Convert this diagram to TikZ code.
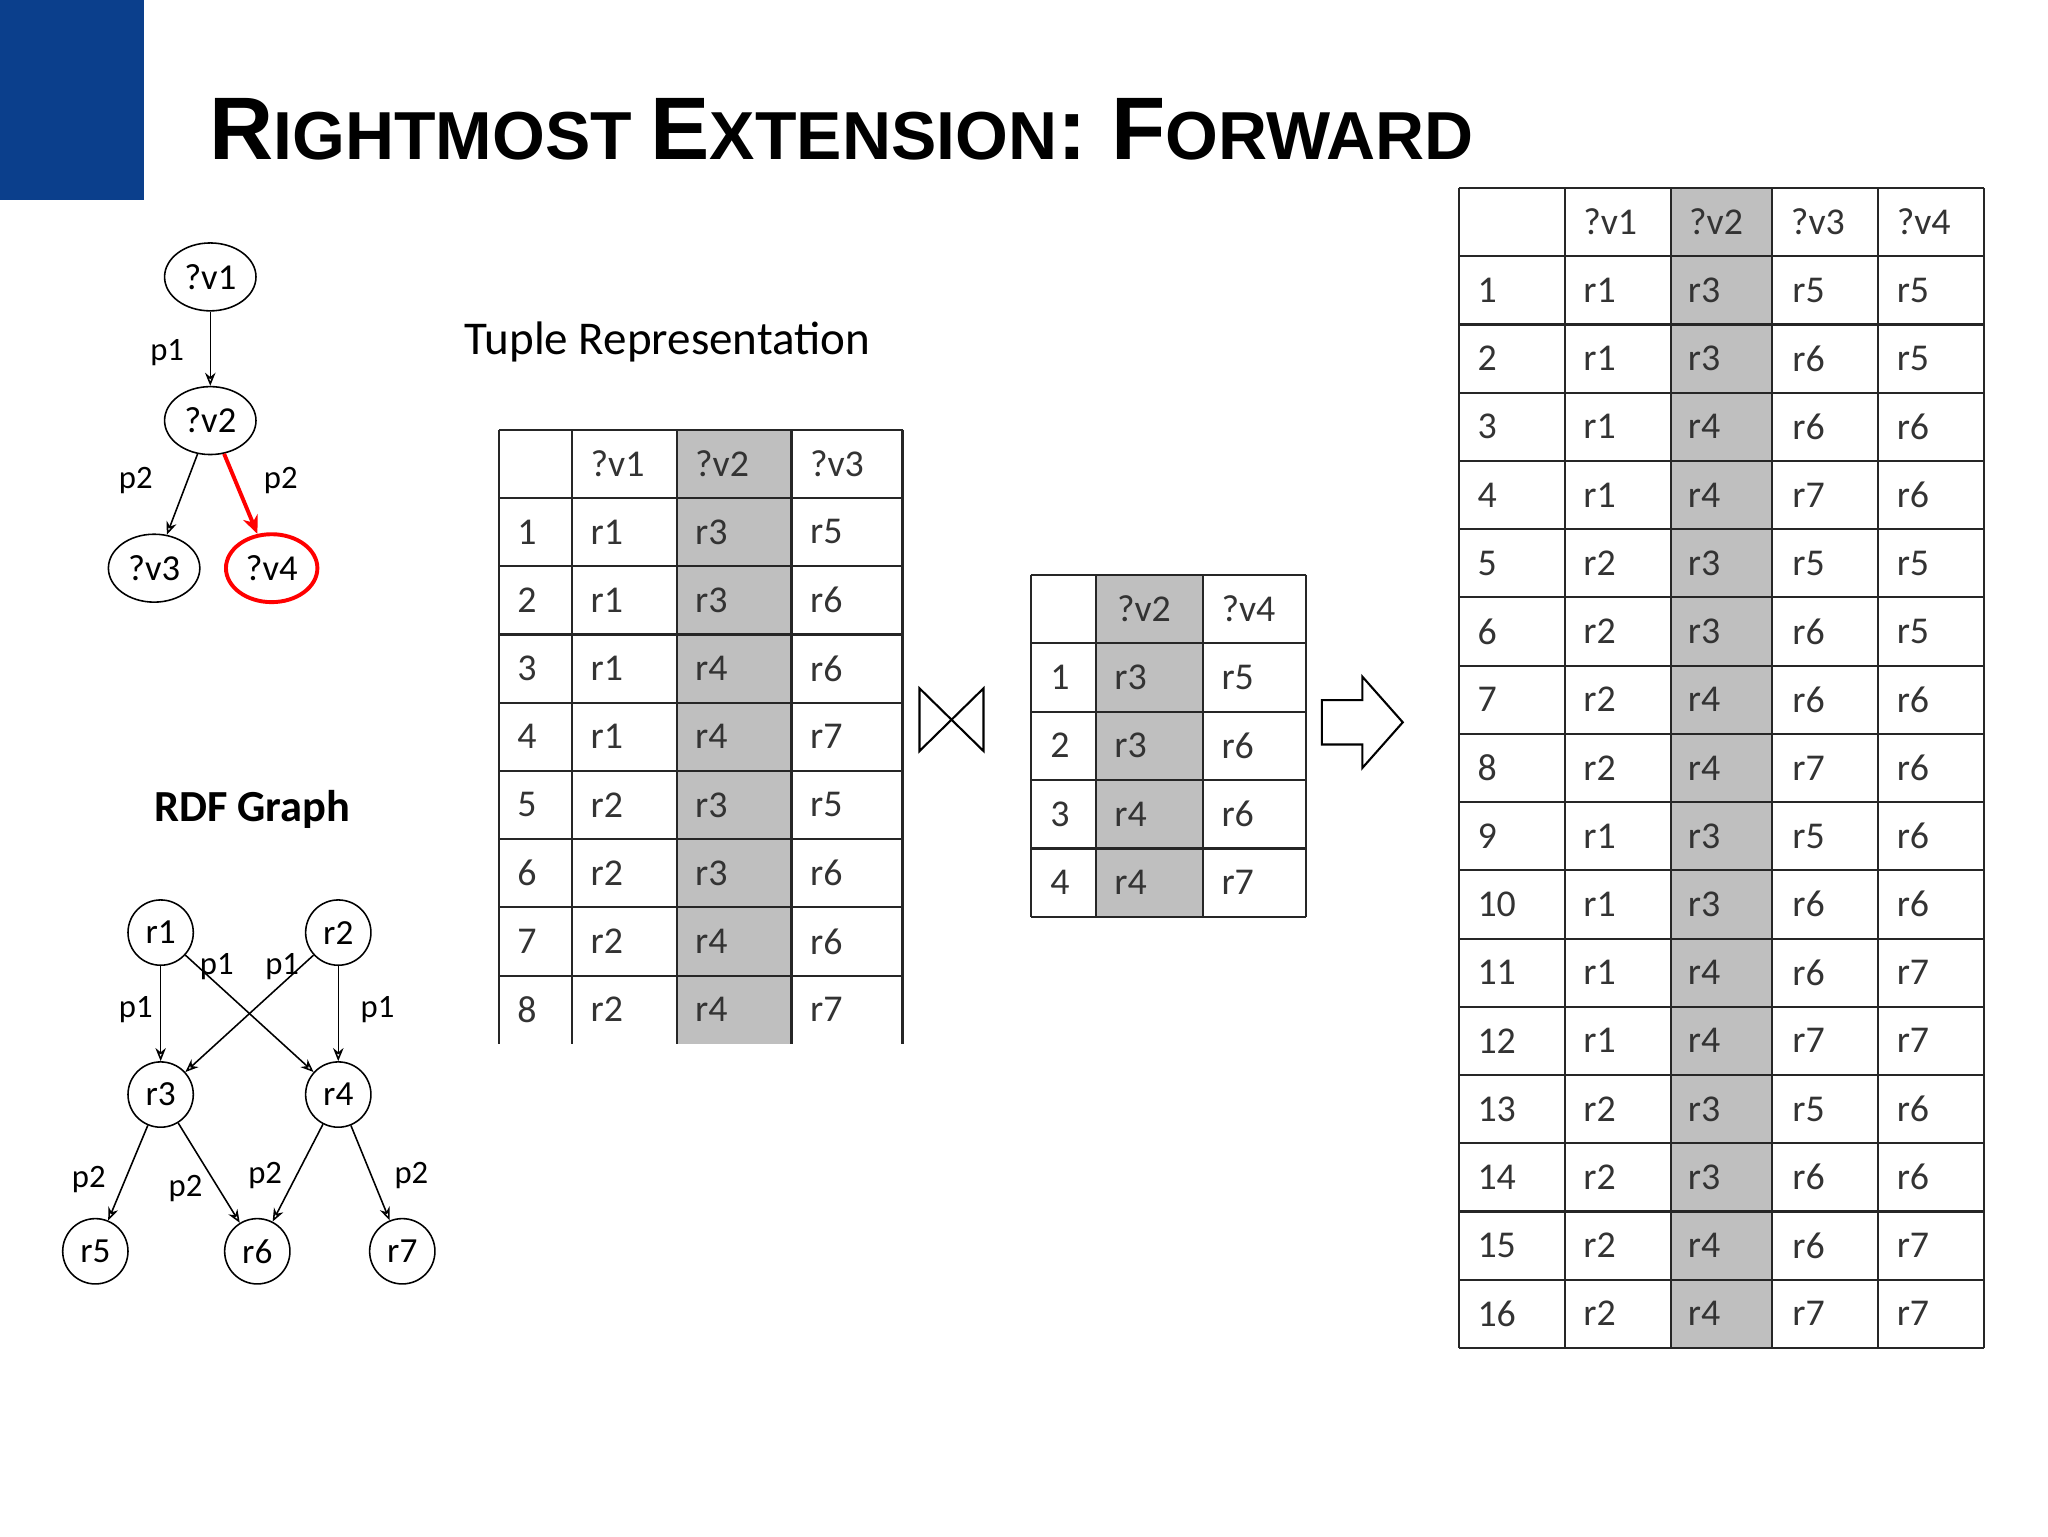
\documentclass[tikz,border=0pt]{standalone}
\usepackage{fontspec}
\setmainfont{Carlito}
\newfontfamily\titlefont{Liberation Sans}
\usetikzlibrary{arrows.meta,shapes.geometric}
\begin{document}
\begin{tikzpicture}[x=1pt,y=-1pt,
  cell/.style={anchor=west,inner sep=0pt,font=\fontsize{29}{29}\selectfont,text=black!80},
  qn/.style={draw,ellipse,minimum width=70,minimum height=52,inner sep=0pt,line width=1.2pt,font=\fontsize{28}{28}\selectfont},
  rn/.style={draw,circle,minimum size=50,inner sep=0pt,line width=1.2pt,font=\fontsize{27}{27}\selectfont},
  lab/.style={font=\fontsize{25}{25}\selectfont,inner sep=1pt},
  edge/.style={-{Stealth[length=10pt,width=8pt,open]},line width=1.2pt},
  grid/.style={line width=1.6pt,draw=black!85}]
\useasboundingbox (0,0) rectangle (1568,1176);
\fill[fill={rgb,255:red,11;green,63;blue,140}] (0,0) rectangle (110,153);
\node[anchor=base west,inner sep=0pt] (title) at (160,122) {\titlefont\bfseries
 {\fontsize{68}{68}\selectfont R}{\fontsize{52}{52}\selectfont IGHTMOST }{\fontsize{68}{68}\selectfont E}{\fontsize{52}{52}\selectfont XTENSION}{\fontsize{68}{68}\selectfont : F}{\fontsize{52}{52}\selectfont ORWARD}};
% query graph
\node[qn] (v1) at (161,212) {?v1};
\node[qn] (v2) at (161,322) {?v2};
\node[qn] (v3) at (118,435) {?v3};
\node[qn,draw=red,line width=3pt] (v4) at (208,435) {?v4};
\draw[edge] (v1) -- (v2);
\draw[edge] (v2) -- (v3);
\draw[-{Stealth[length=14pt,width=12pt,open]},draw=red,line width=3pt] (v2) -- (v4);
\node[lab] (lp1) at (128,270) {p1};
\node[lab] (lp2) at (104,368) {p2};
\node[lab] (lp3) at (215,368) {p2};
% RDF graph
\node[font=\bfseries\fontsize{34}{34}\selectfont] (rdf) at (193,620) {RDF Graph};
\node[rn] (r1) at (123,714) {r1};
\node[rn] (r2) at (259,714) {r2};
\node[rn] (r3) at (123,838) {r3};
\node[rn] (r4) at (259,838) {r4};
\node[rn] (r5) at (73,958) {r5};
\node[rn] (r6) at (197,958) {r6};
\node[rn] (r7) at (308,958) {r7};
\draw[edge] (r1) -- (r3); \draw[edge] (r2) -- (r4);
\draw[edge] (r1) -- (r4); \draw[edge] (r2) -- (r3);
\draw[edge] (r3) -- (r5); \draw[edge] (r3) -- (r6);
\draw[edge] (r4) -- (r6); \draw[edge] (r4) -- (r7);
\node[lab] (a1) at (104,773) {p1}; \node[lab] (a2) at (289,773) {p1};
\node[lab] (a3) at (166,740) {p1}; \node[lab] (a4) at (216,740) {p1};
\node[lab] (a5) at (68,903) {p2}; \node[lab] (a6) at (142,910) {p2};
\node[lab] (a7) at (203,900) {p2}; \node[lab] (a8) at (315,900) {p2};
\node[font=\fontsize{36}{36}\selectfont] (tr) at (511,262) {Tuple Representation};
% table 1
\fill[black!25] (518,329) rectangle (606,799);
\foreach \x in {382,438,518,606,691} \draw[grid] (\x,329) -- (\x,799);
\foreach \i in {0,...,8} \draw[grid] (382,329+52.25*\i) -- (691,329+52.25*\i);
\foreach \t [count=\c] in {?v1,?v2,?v3} {
  \pgfmathsetmacro\xx{{438,518,606}[\c-1]+14}
  \node[cell] (ta0\c) at (\xx,355) {\t};}
\foreach \a/\b/\d [count=\r] in {r1/r3/r5,r1/r3/r6,r1/r4/r6,r1/r4/r7,r2/r3/r5,r2/r3/r6,r2/r4/r6,r2/r4/r7} {
  \pgfmathsetmacro\yy{355+52.25*\r}
  \node[cell] (ta\r n) at (396,\yy) {\r};
  \node[cell] (ta\r a) at (452,\yy) {\a};
  \node[cell] (ta\r b) at (532,\yy) {\b};
  \node[cell] (ta\r c) at (620,\yy) {\d};}
% join
\draw[line width=1.6pt] (704,527) -- (753,575) -- (753,527) -- (704,575) -- cycle;
% table 2
\fill[black!25] (839,440) rectangle (921,702);
\foreach \x in {789,839,921,1000} \draw[grid] (\x,440) -- (\x,702);
\foreach \i in {0,...,5} \draw[grid] (789,440+52.4*\i) -- (1000,440+52.4*\i);
\node[cell] (tb0a) at (855,466) {?v2}; \node[cell] (tb0b) at (935,466) {?v4};
\foreach \b/\d [count=\r] in {r3/r5,r3/r6,r4/r6,r4/r7} {
  \pgfmathsetmacro\yy{466+52.4*\r}
  \node[cell] (tb\r n) at (804,\yy) {\r};
  \node[cell] (tb\r b) at (853,\yy) {\b};
  \node[cell] (tb\r c) at (935,\yy) {\d};}
% arrow
\draw[line width=1.6pt,fill=white] (1012,536) -- (1043,536) -- (1043,518) -- (1074,553) -- (1043,588) -- (1043,570) -- (1012,570) -- cycle;
% table 3
\fill[black!25] (1279,144) rectangle (1357,1032);
\foreach \x in {1117,1198,1279,1357,1438,1519} \draw[grid] (\x,144) -- (\x,1032);
\foreach \i in {0,...,17} \draw[grid] (1117,144+52.235*\i) -- (1519,144+52.235*\i);
\foreach \t [count=\c] in {?v1,?v2,?v3,?v4} {
  \pgfmathsetmacro\xx{{1198,1279,1357,1438}[\c-1]+14}
  \node[cell] (tc0\c) at (\xx,170) {\t};}
\foreach \a/\b/\d/\e [count=\r] in {r1/r3/r5/r5,r1/r3/r6/r5,r1/r4/r6/r6,r1/r4/r7/r6,r2/r3/r5/r5,r2/r3/r6/r5,r2/r4/r6/r6,r2/r4/r7/r6,r1/r3/r5/r6,r1/r3/r6/r6,r1/r4/r6/r7,r1/r4/r7/r7,r2/r3/r5/r6,r2/r3/r6/r6,r2/r4/r6/r7,r2/r4/r7/r7} {
  \pgfmathsetmacro\yy{170+52.235*\r}
  \node[cell] (tc\r n) at (1131,\yy) {\r};
  \node[cell] (tc\r a) at (1212,\yy) {\a};
  \node[cell] (tc\r b) at (1292,\yy) {\b};
  \node[cell] (tc\r c) at (1372,\yy) {\d};
  \node[cell] (tc\r d) at (1452,\yy) {\e};}
\end{tikzpicture}
\end{document}
